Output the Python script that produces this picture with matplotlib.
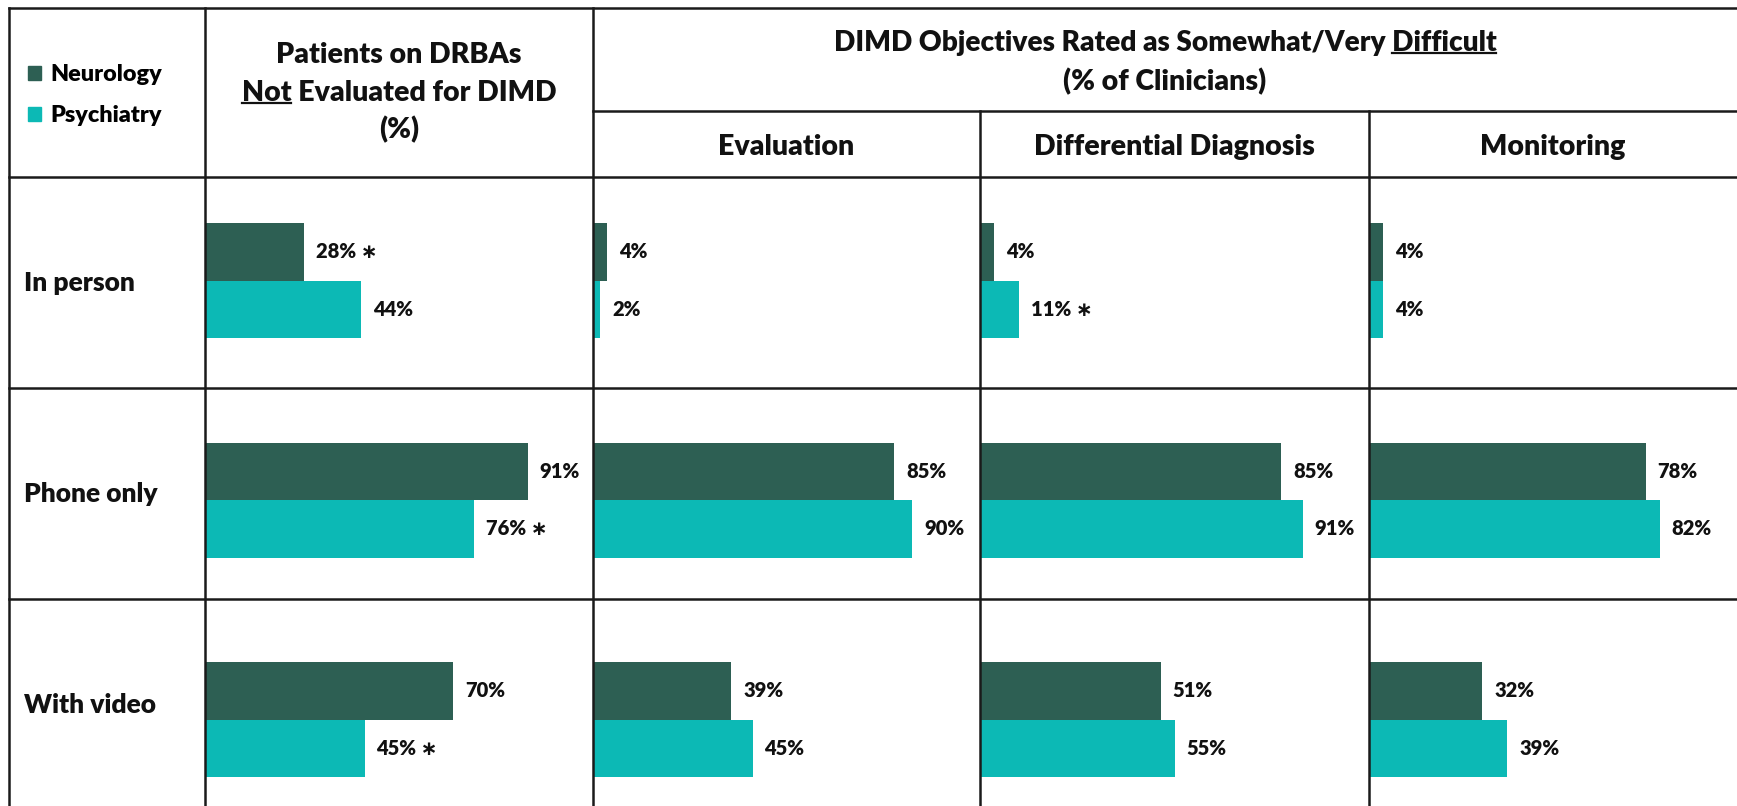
import matplotlib
matplotlib.use("Agg")
import matplotlib.pyplot as plt
from matplotlib.lines import Line2D
from matplotlib.patches import Patch

# data
rows = ["In person", "Phone only", "With video"]
panels = ["Patients", "Evaluation", "Differential Diagnosis", "Monitoring"]
neuro = {
    "Patients": [28, 91, 70],
    "Evaluation": [4, 85, 39],
    "Differential Diagnosis": [4, 85, 51],
    "Monitoring": [4, 78, 32],
}
psych = {
    "Patients": [44, 76, 45],
    "Evaluation": [2, 90, 45],
    "Differential Diagnosis": [11, 91, 55],
    "Monitoring": [4, 82, 39],
}
# significance marks (row index per panel)
neuro_star = {"Patients": [0]}
psych_star = {"Patients": [1, 2], "Differential Diagnosis": [0]}

NEURO = "#2D5F53"
PSYCH = "#0CB9B5"
INK = "#111111"
FONT = ["Lato", "DejaVu Sans"]
WT = "heavy"

W, H = 1737, 806
plt.rcParams["font.family"] = FONT
fig = plt.figure(figsize=(W / 100, H / 100), dpi=100)


def fx(x):
    return x / W


def fy(y):
    return 1 - y / H


# panel columns in pixels
col_edges = [205, 593, 980, 1369, W]
px_per_pct = 3.546
top, bottom = 177, 806
pair0, pair_step = 280.7, 219.5
bh = 0.262

for i, name in enumerate(panels):
    x0, x1 = col_edges[i], col_edges[i + 1]
    ax = fig.add_axes([fx(x0), fy(bottom), (x1 - x0) / W, (bottom - top) / H])
    ax.axis("off")
    ax.set_xlim(0, (x1 - x0) / px_per_pct)
    ax.set_ylim((bottom - pair0) / pair_step, -(pair0 - top) / pair_step)
    ys = list(range(len(rows)))
    ax.barh([y - bh / 2 for y in ys], neuro[name], height=bh, color=NEURO, edgecolor="none")
    ax.barh([y + bh / 2 for y in ys], psych[name], height=bh, color=PSYCH, edgecolor="none")
    for j in ys:
        for vals, stars, off in ((neuro[name], neuro_star, -bh / 2), (psych[name], psych_star, bh / 2)):
            txt = f"{vals[j]}%"
            if j in stars.get(name, []):
                txt += " \u2217"
            ax.annotate(txt, xy=(vals[j], j + off), xytext=(8.5, 0), textcoords="offset points",
                        ha="left", va="center", fontsize=14.5, fontweight=WT, color=INK,
                        family=FONT)

# grid lines
lw, lc = 1.8, "#1a1a1a"
hlines = [(8, 9, W), (111, 593, W), (177, 9, W), (388, 9, W), (599, 9, W)]
vlines = [(9, 8, H), (205, 8, H), (593, 8, H), (980, 111, H), (1369, 111, H)]
for y, xa, xb in hlines:
    fig.add_artist(Line2D([fx(xa), fx(xb)], [fy(y), fy(y)], color=lc, lw=lw, transform=fig.transFigure))
for x, ya, yb in vlines:
    fig.add_artist(Line2D([fx(x), fx(x)], [fy(ya), fy(yb)], color=lc, lw=lw, transform=fig.transFigure))

# row labels
for lab, y in zip(rows, [283, 494, 705]):
    fig.text(fx(24), fy(y), lab, ha="left", va="center", fontsize=19, fontweight=WT, color=INK)

renderer = fig.canvas.get_renderer()


def underline(t, part, at_start):
    bb = t.get_window_extent(renderer)
    tmp = fig.text(0, 0, part, fontsize=t.get_fontsize(), fontweight=WT)
    w = tmp.get_window_extent(renderer).width
    tmp.remove()
    xa = bb.x0 if at_start else bb.x1 - w
    yy = bb.y0 + 3
    fig.add_artist(Line2D([xa / W, (xa + w) / W], [yy / H, yy / H], color=INK, lw=1.6,
                          transform=fig.transFigure))


hs = 20.5
cx = (205 + 593) / 2
fig.text(fx(cx), fy(55), "Patients on DRBAs", ha="center", va="center", fontsize=hs, fontweight=WT, color=INK)
t = fig.text(fx(cx), fy(93), "Not Evaluated for DIMD", ha="center", va="center", fontsize=hs, fontweight=WT, color=INK)
underline(t, "Not", True)
fig.text(fx(cx), fy(130), "(%)", ha="center", va="center", fontsize=hs, fontweight=WT, color=INK)

cx = (593 + W) / 2
t = fig.text(fx(cx), fy(43), "DIMD Objectives Rated as Somewhat/Very Difficult", ha="center", va="center",
             fontsize=20.2, fontweight=WT, color=INK)
underline(t, "Difficult", False)
fig.text(fx(cx), fy(82), "(% of Clinicians)", ha="center", va="center", fontsize=hs, fontweight=WT, color=INK)

for name, (xa, xb) in zip(panels[1:], zip(col_edges[1:-1], col_edges[2:])):
    fig.text(fx((xa + xb) / 2), fy(147), name, ha="center", va="center", fontsize=hs, fontweight=WT, color=INK)

# legend
handles = [Patch(color=NEURO, label="Neurology"), Patch(color=PSYCH, label="Psychiatry")]
fig.legend(handles=handles, loc="center left", bbox_to_anchor=(fx(28), fy(95)), frameon=False,
           prop={"size": 16.8, "weight": WT, "family": FONT}, handlelength=0.55, handleheight=0.55,
           handletextpad=0.4, labelspacing=0.85, borderpad=0, borderaxespad=0)

fig.savefig("out.png", dpi=100)
